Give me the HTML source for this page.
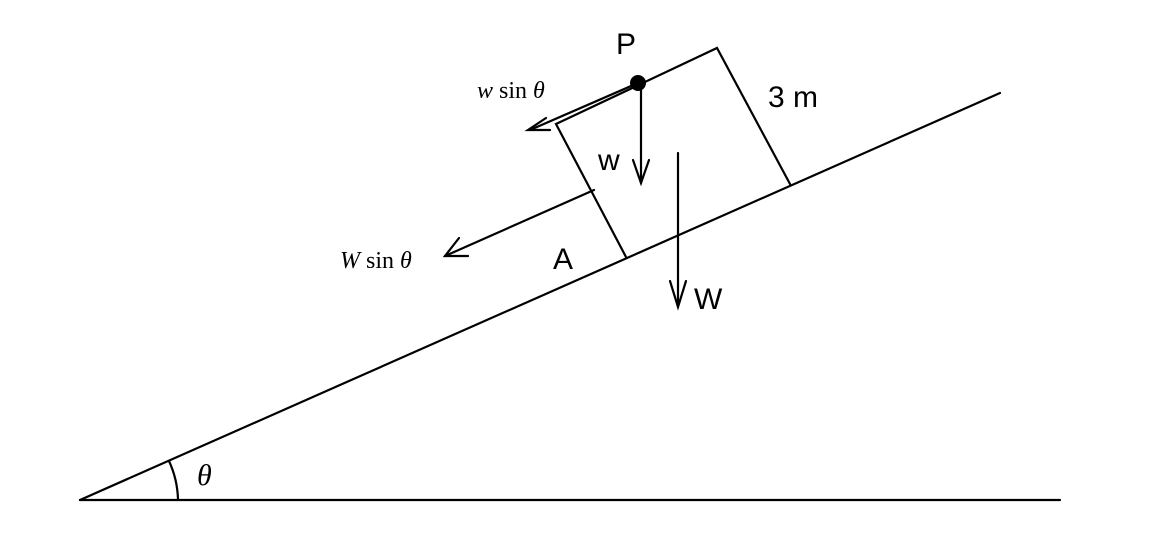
<!DOCTYPE html>
<html><head><style>body{margin:0;background:#fff}svg{display:block}</style></head><body>
<svg width="1165" height="553" viewBox="0 0 1165 553" xmlns="http://www.w3.org/2000/svg">
<g stroke="#000" stroke-width="2.2" fill="none" stroke-linecap="round">
<line x1="80" y1="500" x2="1060" y2="500"/>
<line x1="80" y1="500" x2="1000" y2="93"/>
<path d="M178,500 A98,98 0 0 0 169,461"/>
<polyline points="626,257 556,124 717,48 790,184"/>
<line x1="638" y1="83" x2="530" y2="130"/>
<polyline points="546,118 528,130 550,130"/>
<line x1="641" y1="83" x2="641" y2="183"/>
<polyline points="633,160 641,183 649,160"/>
<line x1="678" y1="153" x2="678" y2="307"/>
<polyline points="670,281 678,307 686,281"/>
<line x1="594" y1="190" x2="445" y2="256"/>
<polyline points="459,238 445,256 468,256"/>
</g>
<circle cx="638" cy="83" r="8" fill="#000"/>
<g font-family="Liberation Sans, sans-serif" font-size="30" fill="#000">
<text x="616" y="54">P</text>
<text x="768" y="107">3 m</text>
<text x="598" y="170">w</text>
<text x="553" y="269">A</text>
<text x="694" y="309">W</text>
</g>
<g font-family="Liberation Serif, serif" font-size="24" fill="#000">
<text x="477" y="98"><tspan font-style="italic">w</tspan> sin <tspan font-style="italic">θ</tspan></text>
<text x="340" y="268"><tspan font-style="italic">W</tspan> sin <tspan font-style="italic">θ</tspan></text>
<text x="197" y="485" font-size="30" font-style="italic">θ</text>
</g>
</svg>
</body></html>
